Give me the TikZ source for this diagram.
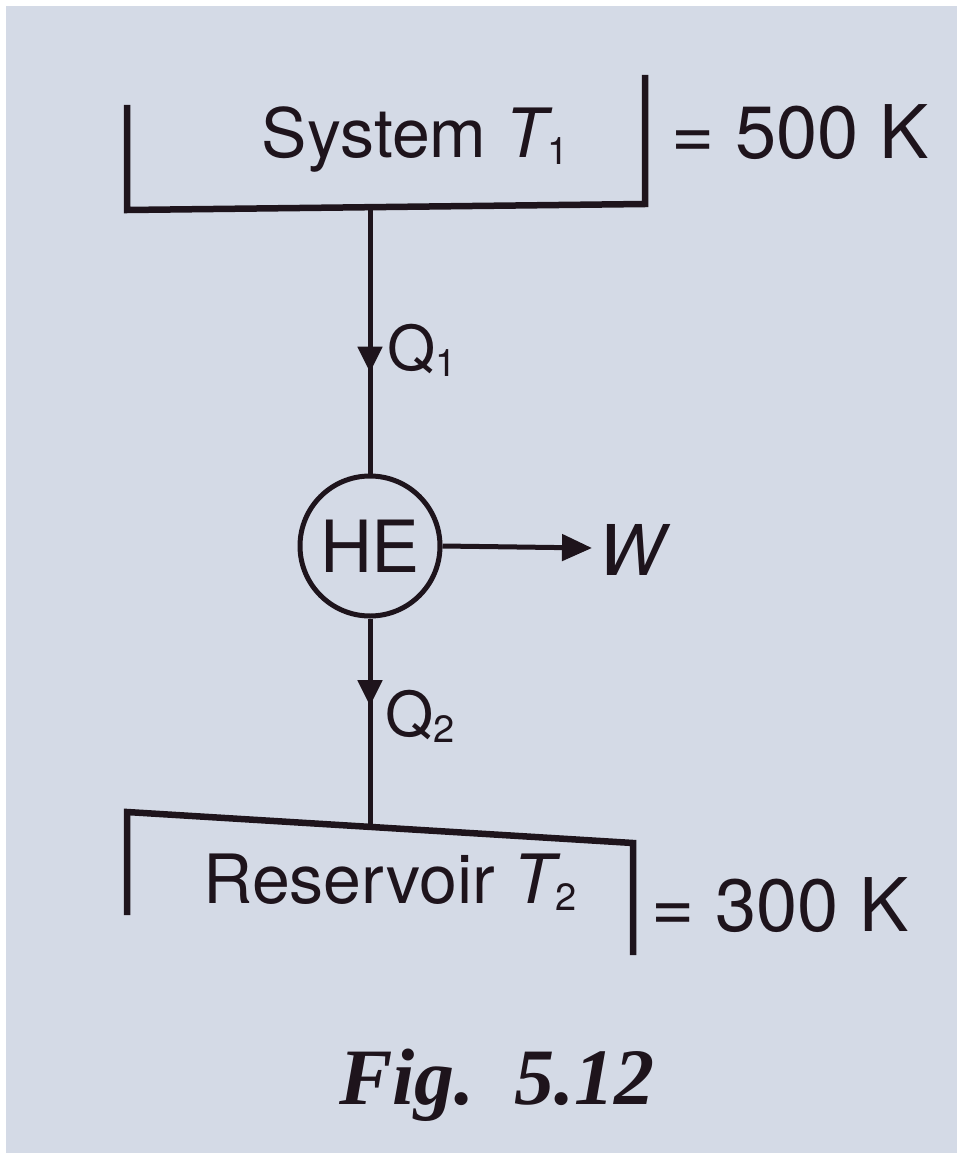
\documentclass[tikz,border=0pt]{standalone}
\usepackage{fontspec}
\setmainfont{TeX Gyre Heros}
\newfontfamily\figfont{Liberation Serif}
\usetikzlibrary{arrows.meta,decorations.markings}
\definecolor{paper}{RGB}{212,218,230}
\definecolor{ink}{RGB}{30,20,28}
\newcommand\lowsub[1]{\raisebox{-0.1em}{\fontsize{38}{40}\selectfont #1}}
\begin{document}
\begin{tikzpicture}[x=1pt,y=-1pt,
  wire/.style={draw=ink,line width=5pt},
  bracket/.style={draw=ink,line width=6.5pt,line join=miter},
  lbl/.style={text=ink,inner sep=0pt,font=\fontsize{68}{74}\selectfont},
  big/.style={text=ink,inner sep=0pt,font=\fontsize{74}{80}\selectfont},
  flowtip/.style={postaction={decorate},decoration={markings,
     mark=at position #1 with {\arrow{Triangle[length=26pt,width=24pt]}}}},
  engine/.style={circle,draw=ink,line width=5pt,minimum size=140pt,inner sep=0pt,
     text=ink,font=\fontsize{72}{76}\selectfont}]
\useasboundingbox (0,0) rectangle (957,1153);
\fill[white] (0,0) rectangle (957,1153);
\fill[paper] (6,6) rectangle (957,1153);
% top bracket
\coordinate (tl) at (127,105);
\coordinate (tbl) at (127,210);
\coordinate (tbr) at (645,204);
\coordinate (tr) at (645,75);
\coordinate (ttap) at (370,208);
\draw[bracket] (tl) -- (tbl) -- (tbr) -- (tr);
\node[lbl] (sys) at (415,140) {System {\itshape T}\lowsub{1}};
\node[big] (t1) at (800,132) {= 500 K};
% engine
\node[engine] (he) at (370,546) {HE};
\draw[wire,flowtip=0.62] (ttap) -- (he.north);
\node[lbl,font=\fontsize{62}{66}\selectfont] (q1) at (422,350) {Q\lowsub{1}};
\coordinate (wend) at (592,548);
\draw[wire,-{Triangle[length=30pt,width=26pt]}] (he.east) -- (wend);
\node[lbl,font=\fontsize{70}{74}\selectfont\itshape] (w) at (632,550) {W};
% bottom bracket
\coordinate (bl) at (127,915);
\coordinate (btl) at (127,812);
\coordinate (btr) at (633,843);
\coordinate (br) at (633,955);
\coordinate (btap) at (370,827);
\draw[wire,flowtip=0.42] (he.south) -- (btap);
\node[lbl,font=\fontsize{62}{66}\selectfont] (q2) at (420,716) {Q\lowsub{2}};
\draw[bracket] (bl) -- (btl) -- (btr) -- (br);
\node[lbl] (res) at (390,882) {Reservoir {\itshape T}\lowsub{2}};
\node[big] (t2) at (780,905) {= 300 K};
% caption
\node[text=ink,inner sep=0pt,font=\figfont\bfseries\itshape\fontsize{80}{86}\selectfont] (fig) at (497,1085) {Fig.\ \ 5.12};
\end{tikzpicture}
\end{document}
